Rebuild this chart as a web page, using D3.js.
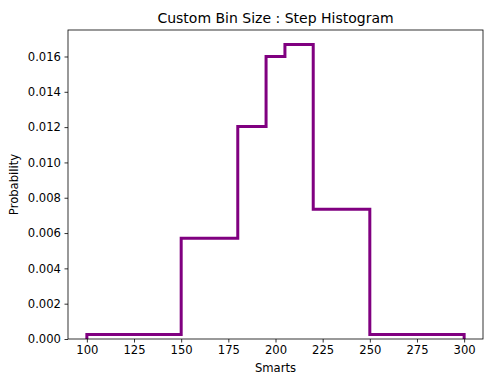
<!DOCTYPE html>
<html>
<head>
<meta charset="utf-8">
<script src="https://cdn.jsdelivr.net/npm/d3@7"></script>
<style>
  body { margin: 0; background: #fff; }
  text { font-family: "DejaVu Sans", sans-serif; fill: #000; }
</style>
</head>
<body>
<div id="chart"></div>
<script>
var w = 500;
var h = 378;

// bin edges and the probability density of each bin
var binEdges = [100, 150, 180, 195, 205, 220, 250, 300];
var binValues = [0.00025, 0.0057, 0.01203, 0.016, 0.01668, 0.00735, 0.00025];
var xTicks = [100, 125, 150, 175, 200, 225, 250, 275, 300];
var yTicks = [0, 0.002, 0.004, 0.006, 0.008, 0.010, 0.012, 0.014, 0.016];

var margin = {top: 30, right: 17, bottom: 39, left: 68};
var iw = w - margin.left - margin.right;
var ih = h - margin.top - margin.bottom;

var svg = d3.select("#chart").append("svg")
    .attr("width", w)
    .attr("height", h);

var x = d3.scaleLinear().domain([90, 310]).range([0, iw]);
var y = d3.scaleLinear().domain([0, 0.0175]).range([ih, 0]);

var g = svg.append("g")
    .attr("transform", "translate(" + margin.left + "," + margin.top + ")");

// step outline: start on the baseline, walk across each bin, back to baseline
var pts = [[binEdges[0], 0]];
binValues.forEach(function(v, i) {
    pts.push([binEdges[i], v]);
    pts.push([binEdges[i + 1], v]);
});
pts.push([binEdges[binEdges.length - 1], 0]);

g.append("clipPath").attr("id", "clip")
  .append("rect").attr("width", iw).attr("height", ih);

g.append("path")
    .datum(pts)
    .attr("clip-path", "url(#clip)")
    .attr("fill", "none")
    .attr("stroke", "purple")
    .attr("stroke-width", 3)
    .attr("stroke-linejoin", "miter")
    .attr("d", d3.line().x(function(d) { return x(d[0]); }).y(function(d) { return y(d[1]); }));

var xAxis = g.append("g")
    .attr("transform", "translate(0," + ih + ")")
    .call(d3.axisBottom(x).tickValues(xTicks).tickSize(3.5).tickPadding(3.5));
var yAxis = g.append("g")
    .call(d3.axisLeft(y).tickValues(yTicks).tickSize(3.5).tickPadding(3.5)
        .tickFormat(d3.format(".3f")));

[xAxis, yAxis].forEach(function(a) {
    a.select(".domain").remove();
    a.selectAll("text").style("font-family", "DejaVu Sans").style("font-size", "11.6px");
    a.selectAll("line").attr("stroke", "#000").attr("stroke-width", 0.8);
});

// frame
g.append("rect")
    .attr("width", iw)
    .attr("height", ih)
    .attr("fill", "none")
    .attr("stroke", "#000")
    .attr("stroke-width", 0.8);

svg.append("text")
    .attr("x", margin.left + iw / 2)
    .attr("y", 23)
    .attr("text-anchor", "middle")
    .style("font-size", "14px")
    .text("Custom Bin Size : Step Histogram");

svg.append("text")
    .attr("x", margin.left + iw / 2)
    .attr("y", 372)
    .attr("text-anchor", "middle")
    .style("font-size", "11.6px")
    .text("Smarts");

svg.append("text")
    .attr("transform", "translate(18," + (margin.top + ih / 2) + ") rotate(-90)")
    .attr("text-anchor", "middle")
    .style("font-size", "11.6px")
    .text("Probability");
</script>
</body>
</html>
